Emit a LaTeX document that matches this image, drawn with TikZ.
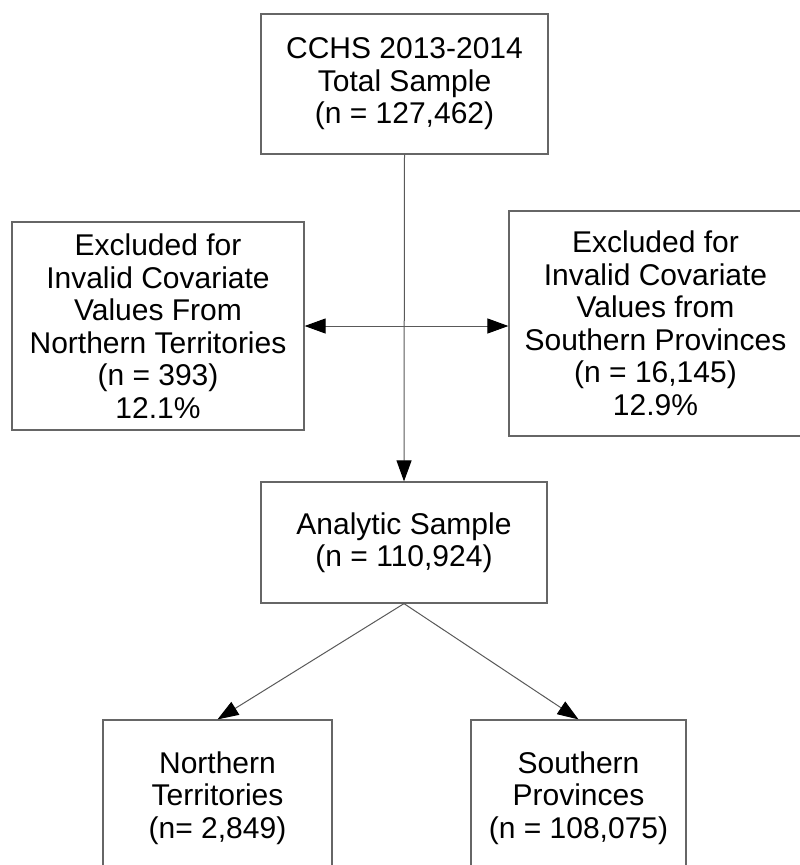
\documentclass[tikz,border=0pt]{standalone}
\usepackage{fontspec}
\setmainfont{Liberation Sans}
\usetikzlibrary{arrows.meta}

\begin{document}
\begin{tikzpicture}[x=1pt, y=-1pt,
	>={Triangle[length=21pt, width=15pt, color=black, fill=black]},
	box/.style={draw=black!60, line width=1.2pt, rectangle, inner sep=0pt,
		align=center, font=\fontsize{30}{32.5}\selectfont},
	link/.style={draw=black!65, line width=1pt}]
	% area
	\clip (0,0) rectangle (800,865);

	% caixas
	\node[box, minimum width=287pt, minimum height=140pt] (total) at (404.5,84)
		{CCHS 2013-2014\\Total Sample\\ (n = 127,462)};
	\node[box, minimum width=292pt, minimum height=208pt] (exnorth) at (158,326)
		{Excluded for\\Invalid Covariate\\Values From\\Northern Territories\\(n = 393)\\12.1\%};
	\node[box, minimum width=293pt, minimum height=225pt] (exsouth) at (655.5,323.5)
		{Excluded for\\Invalid Covariate\\Values from\\Southern Provinces\\(n = 16,145)\\12.9\%};
	\node[box, minimum width=286pt, minimum height=121pt] (analytic) at (404,542.5)
		{Analytic Sample\\ (n = 110,924)};
	\node[box, minimum width=229pt, minimum height=156pt] (north) at (217.5,798)
		{Northern\\Territories\\(n= 2,849)};
	\node[box, minimum width=215pt, minimum height=156pt] (south) at (578.5,798)
		{Southern\\Provinces\\(n = 108,075)};

	% setas
	\draw[link, ->] (total.south) -- (analytic.north);
	\draw[link, <->] (exnorth.east) -- (exnorth.east -| exsouth.west);
	\draw[link, ->] (analytic.south) -- (north.north);
	\draw[link, ->] (analytic.south) -- (south.north);
\end{tikzpicture}
\end{document}
